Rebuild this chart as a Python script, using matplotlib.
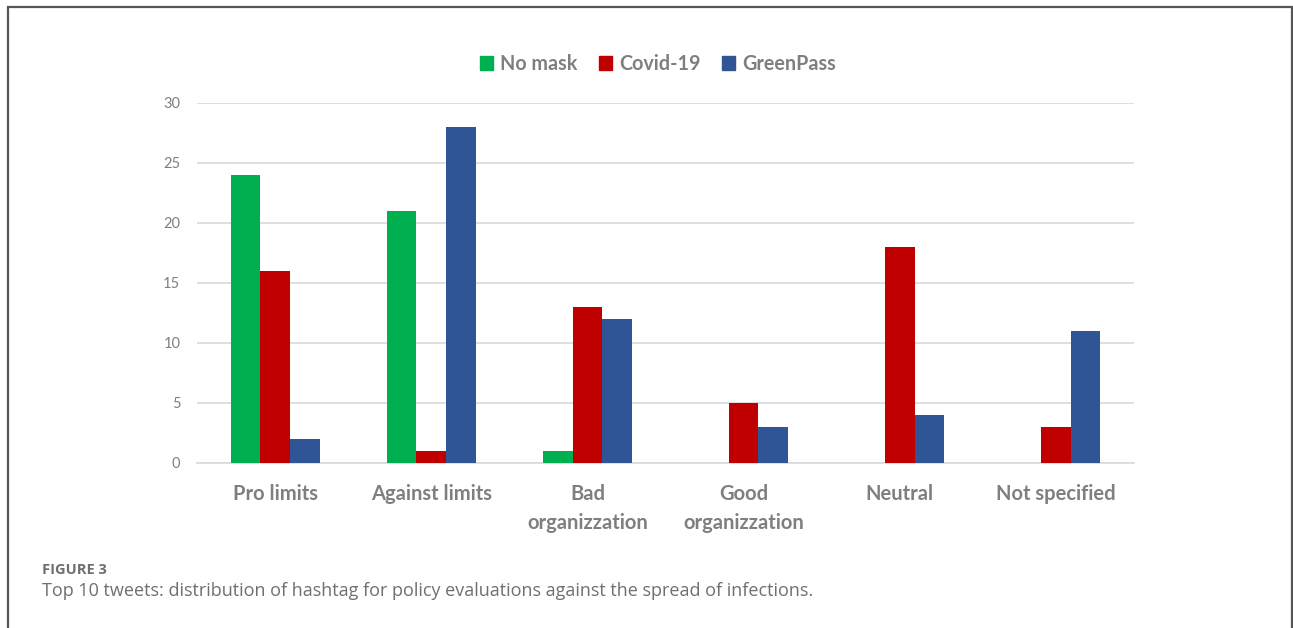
import numpy as np
import matplotlib.pyplot as plt
from matplotlib.patches import Rectangle, Patch

categories = ['Pro limits', 'Against limits', 'Bad\norganizzation',
              'Good\norganizzation', 'Neutral', 'Not specified']
series_names = ['No mask', 'Covid-19', 'GreenPass']
no_mask = [24, 21, 1, 0, 0, 0]
covid = [16, 1, 13, 5, 18, 3]
greenpass = [2, 28, 12, 3, 4, 11]
colors = ['#00b050', '#c00000', '#2f5597']

fig = plt.figure(figsize=(12.93, 6.28), dpi=100)
fig.patch.set_facecolor('white')

# outer frame around the figure panel
W, H = 1293, 628
fig.add_artist(Rectangle((8 / W, -0.05), (1292 - 8) / W, 1.05 - 7 / H,
                         transform=fig.transFigure, fill=False,
                         edgecolor='#555555', lw=1.6))

ax = fig.add_axes([197 / W, 1 - 463 / H, (1134 - 197) / W, (463 - 103) / H])
x = np.arange(len(categories))
bw = 0.19
for i, (vals, c) in enumerate(zip([no_mask, covid, greenpass], colors)):
    ax.bar(x + (i - 1) * bw, vals, width=bw, color=c, zorder=3)

ax.set_xlim(-0.5, len(categories) - 0.5)
ax.set_ylim(0, 30)
ax.set_yticks(range(0, 31, 5))
ax.grid(axis='y', color='#d9d9d9', lw=1.2, zorder=0)
for s in ['top', 'right', 'left']:
    ax.spines[s].set_visible(False)
ax.spines['bottom'].set_color('#d9d9d9')
ax.spines['bottom'].set_linewidth(1.2)
ax.tick_params(axis='both', length=0)
ax.tick_params(axis='y', labelsize=10.5, labelcolor='#7f7f7f', pad=12)
ax.set_xticks(x)
ax.set_xticklabels(categories, fontsize=14.5, color='#7f7f7f',
                   fontweight='bold', family='Lato', linespacing=1.6)
ax.tick_params(axis='x', pad=15)
for lab in ax.get_yticklabels():
    lab.set_family('Lato')

handles = [Patch(color=c, label=n) for c, n in zip(colors, series_names)]
fig.legend(handles=handles, loc='center', bbox_to_anchor=(658 / W, 1 - 64 / H),
           ncol=3, frameon=False, handlelength=0.65, handleheight=0.65,
           handletextpad=0.35, columnspacing=1.1,
           prop={'family': 'Lato', 'weight': 'bold', 'size': 14.2},
           labelcolor='#7f7f7f')

fig.text(42 / W, 1 - 570 / H, 'FIGURE 3', fontsize=10.5, color='#6f6f6f',
         family='Open Sans', fontweight='bold', va='center')
fig.text(42 / W, 1 - 591 / H,
         'Top 10 tweets: distribution of hashtag for policy evaluations '
         'against the spread of infections.',
         fontsize=13, color='#6f6f6f', family='Open Sans', va='center')

fig.savefig('out.png', dpi=100)
